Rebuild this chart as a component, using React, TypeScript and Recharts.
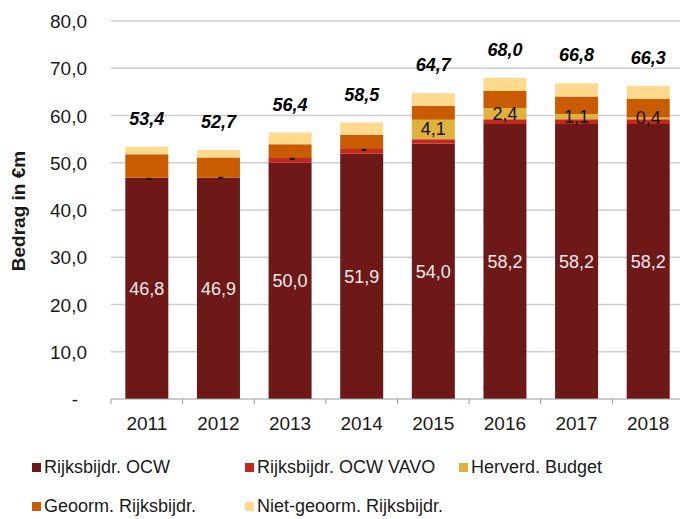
import React from "react";
import {
  BarChart,
  Bar,
  XAxis,
  YAxis,
  CartesianGrid,
  Legend,
  LabelList,
} from "recharts";

const years = ["2011", "2012", "2013", "2014", "2015", "2016", "2017", "2018"];
const rijksOCW = [46.8, 46.9, 50.0, 51.9, 54.0, 58.2, 58.2, 58.2];
const rijksVAVO = [0, 0, 1.0, 1.0, 1.0, 1.0, 1.0, 1.0];
const herverd = [0, 0, 0, 0, 4.1, 2.4, 1.1, 0.4];
const geoorm = [5.0, 4.2, 2.9, 3.0, 2.9, 3.6, 3.7, 3.9];
const nietGeoorm = [1.6, 1.6, 2.5, 2.6, 2.7, 2.8, 2.8, 2.8];
const totals = [53.4, 52.7, 56.4, 58.5, 64.7, 68.0, 66.8, 66.3];
const yTicks = [0, 10, 20, 30, 40, 50, 60, 70, 80];

const SERIES = [
  { key: "ocw", name: "Rijksbijdr. OCW", color: "#6E1818" },
  { key: "vavo", name: "Rijksbijdr. OCW VAVO", color: "#C3281E" },
  { key: "herverd", name: "Herverd. Budget", color: "#DFB33B" },
  { key: "geoorm", name: "Geoorm. Rijksbijdr.", color: "#C95C00" },
  { key: "niet", name: "Niet-geoorm. Rijksbijdr.", color: "#FFD98E" },
];

const data = years.map((year, i) => ({
  year,
  ocw: rijksOCW[i],
  vavo: rijksVAVO[i],
  herverd: herverd[i],
  geoorm: geoorm[i],
  niet: nietGeoorm[i],
  total: totals[i],
}));

const FONT = "'Liberation Sans', Arial, sans-serif";
const CHART_W = 684;
const CHART_H = 519;
const YAXIS_W = 111;
const HALF_BAND = (CHART_W - YAXIS_W) / years.length / 2;

const fmt = (v: number) => v.toFixed(1).replace(".", ",");

function YTick({ x, y, payload }: any) {
  const v = payload.value as number;
  return (
    <text
      x={v === 0 ? x + 7 - 32 : x + 7 - 23}
      y={y}
      dy={7}
      textAnchor="end"
      fontSize={19}
      fontFamily={FONT}
      fill="#1a1a1a"
    >
      {v === 0 ? "-" : fmt(v)}
    </text>
  );
}

function XTick({ x, y, payload }: any) {
  const left = x - HALF_BAND;
  return (
    <g>
      <line x1={left} x2={left} y1={y - 8} y2={y - 3} stroke="#9a9a9a" />
      <text
        x={x}
        y={y}
        dy={23}
        textAnchor="middle"
        fontSize={19}
        fontFamily={FONT}
        fill="#1a1a1a"
      >
        {payload.value}
      </text>
    </g>
  );
}

// labels drawn on the top segment so they sit above every stacked bar
function TopLabels(props: any) {
  const vb = props.viewBox ?? props;
  const { x, y, width, height } = vb;
  const i = props.index as number;
  const cx = x + width / 2;
  const ppu = height / nietGeoorm[i];
  const herY = y + height + (geoorm[i] + herverd[i] / 2) * ppu;
  return (
    <g>
      <text
        x={cx}
        y={y - 22}
        textAnchor="middle"
        fontSize={18}
        fontWeight="bold"
        fontStyle="italic"
        fontFamily={FONT}
        fill="#000"
      >
        {fmt(totals[i])}
      </text>
      <text
        x={herverd[i] === 0 ? cx + 2 : cx}
        y={herY}
        dy={6}
        textAnchor="middle"
        fontSize={18}
        fontWeight={herverd[i] === 0 ? "bold" : "normal"}
        fontFamily={FONT}
        fill="#111"
      >
        {herverd[i] === 0 ? "-" : fmt(herverd[i])}
      </text>
    </g>
  );
}

function LegendBox() {
  const rows = [
    [
      { s: SERIES[0], x: 32 },
      { s: SERIES[1], x: 245 },
      { s: SERIES[2], x: 459 },
    ],
    [
      { s: SERIES[3], x: 32 },
      { s: SERIES[4], x: 245 },
    ],
  ];
  return (
    <div style={{ position: "relative", width: CHART_W, height: 80 }}>
      {rows.map((row, r) =>
        row.map(({ s, x }) => (
          <div
            key={s.key}
            style={{
              position: "absolute",
              left: x,
              top: r === 0 ? 17 : 56,
              display: "flex",
              alignItems: "center",
              fontFamily: FONT,
              fontSize: 18,
              color: "#1a1a1a",
              whiteSpace: "nowrap",
              lineHeight: "22px",
            }}
          >
            <span
              style={{
                display: "inline-block",
                width: 9,
                height: 9,
                background: s.color,
                marginRight: 3,
              }}
            />
            {s.name}
          </div>
        ))
      )}
    </div>
  );
}

export default function App() {
  return (
    <div
      style={{
        position: "absolute",
        left: 0,
        top: 0,
        width: 680,
        height: 519,
        overflow: "hidden",
        background: "#fff",
      }}
    >
      <BarChart
        width={CHART_W}
        height={CHART_H}
        data={data}
        margin={{ top: 21, right: 0, left: 0, bottom: 0 }}
        barCategoryGap="20%"
      >
        <CartesianGrid
          vertical={false}
          stroke="#cfcfcf"
          strokeWidth={1.5}
          horizontalValues={yTicks.filter((t) => t > 0)}
        />
        <XAxis
          dataKey="year"
          height={40}
          tick={<XTick />}
          tickLine={false}
          axisLine={{ stroke: "#9a9a9a" }}
        />
        <YAxis
          width={YAXIS_W}
          domain={[0, 80]}
          ticks={yTicks}
          interval={0}
          tick={<YTick />}
          tickLine={false}
          axisLine={false}
          label={{
            content: () => (
              <text
                x={25}
                y={211}
                transform="rotate(-90 25 211)"
                textAnchor="middle"
                fontSize={19}
                fontWeight="bold"
                fontFamily={FONT}
                fill="#1a1a1a"
              >
                Bedrag in €m
              </text>
            ),
          }}
        />
        <Legend
          verticalAlign="bottom"
          height={80}
          content={() => <LegendBox />}
          wrapperStyle={{ left: 0, bottom: 0, width: CHART_W }}
        />
        <Bar dataKey="ocw" name={SERIES[0].name} stackId="a" fill={SERIES[0].color} isAnimationActive={false}>
          <LabelList
            dataKey="ocw"
            position="center"
            formatter={(v: any) => fmt(Number(v))}
            fill="#f4ecec"
            fontSize={18}
            fontFamily={FONT}
          />
        </Bar>
        <Bar dataKey="vavo" name={SERIES[1].name} stackId="a" fill={SERIES[1].color} isAnimationActive={false} />
        <Bar dataKey="herverd" name={SERIES[2].name} stackId="a" fill={SERIES[2].color} isAnimationActive={false} />
        <Bar dataKey="geoorm" name={SERIES[3].name} stackId="a" fill={SERIES[3].color} isAnimationActive={false} />
        <Bar dataKey="niet" name={SERIES[4].name} stackId="a" fill={SERIES[4].color} isAnimationActive={false}>
          <LabelList dataKey="total" content={<TopLabels />} />
        </Bar>
      </BarChart>
    </div>
  );
}
